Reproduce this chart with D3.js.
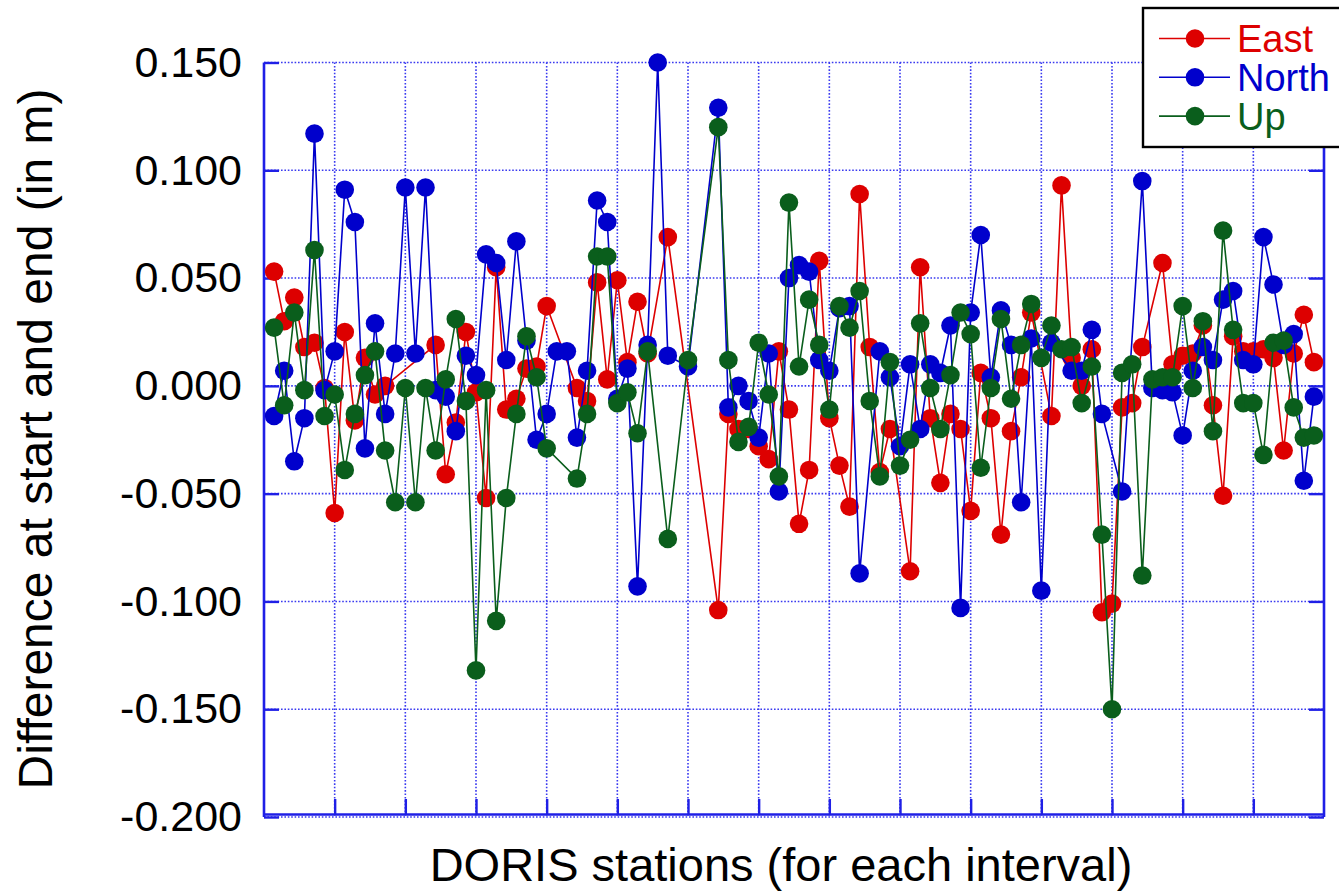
<!DOCTYPE html>
<html>
<head>
<meta charset="utf-8">
<script src="https://cdn.jsdelivr.net/npm/d3@7"></script>
<style>
  html, body { margin: 0; padding: 0; background: #ffffff; }
  svg { display: block; font-family: "Liberation Sans", Arial, Helvetica, sans-serif; }
</style>
</head>
<body>
<svg id="chart" width="1339" height="893"></svg>
<script>
// ---- Data (index 1..104 along the x axis; null = no value for that interval) ----
const seriesNames = ["East", "North", "Up"];
const east = [
  0.053, 0.030, 0.041, 0.018, 0.020, -0.001, -0.059, 0.025, -0.016, 0.013,
  -0.004, 0.000, null, null, null, null, 0.019, -0.041, -0.017, 0.025,
  -0.003, -0.052, 0.055, -0.011, -0.006, 0.008, 0.009, 0.037, null, null,
  -0.001, -0.007, 0.048, 0.003, 0.049, 0.011, 0.039, 0.015, null, 0.069,
  null, null, null, null, -0.104, -0.013, -0.020, -0.020, -0.028, -0.034,
  0.016, -0.011, -0.064, -0.039, 0.058, -0.015, -0.037, -0.056, 0.089, 0.018,
  -0.040, -0.020, null, -0.086, 0.055, -0.015, -0.045, -0.013, -0.020, -0.058,
  0.006, -0.015, -0.069, -0.021, 0.004, 0.034, null, -0.014, 0.093, 0.013,
  0.000, 0.017, -0.105, -0.101, -0.010, -0.008, 0.018, null, 0.057, 0.010,
  0.014, 0.015, 0.028, -0.009, -0.051, 0.023, 0.016, 0.016, 0.017, 0.013,
  -0.030, 0.015, 0.033, 0.011
];
const north = [
  -0.014, 0.007, -0.035, -0.015, 0.117, -0.002, 0.016, 0.091, 0.076, -0.029,
  0.029, -0.013, 0.015, 0.092, 0.015, 0.092, -0.002, -0.005, -0.021, 0.014,
  0.005, 0.061, 0.057, 0.012, 0.067, 0.021, -0.025, -0.013, 0.016, 0.016,
  -0.024, 0.007, 0.086, 0.076, -0.006, 0.008, -0.093, 0.019, 0.150, 0.014,
  null, 0.009, null, null, 0.129, -0.010, 0.000, -0.007, -0.024, 0.015,
  -0.049, 0.050, 0.056, 0.053, 0.012, 0.007, 0.036, 0.037, -0.087, null,
  0.016, 0.004, -0.028, 0.010, -0.020, 0.010, 0.006, 0.028, -0.103, 0.034,
  0.070, 0.004, 0.035, 0.019, -0.054, 0.022, -0.095, 0.020, null, 0.007,
  0.007, 0.026, -0.013, null, -0.049, null, 0.095, -0.001, -0.002, -0.003,
  -0.023, 0.007, 0.018, 0.012, 0.040, 0.044, 0.012, 0.010, 0.069, 0.047,
  0.019, 0.024, -0.044, -0.005
];
const up = [
  0.027, -0.009, 0.034, -0.002, 0.063, -0.014, -0.004, -0.039, -0.013, 0.005,
  0.016, -0.030, -0.054, -0.001, -0.054, -0.001, -0.030, 0.003, 0.031, -0.007,
  -0.132, -0.002, -0.109, -0.052, -0.013, 0.023, 0.004, -0.029, null, null,
  -0.043, -0.013, 0.060, 0.060, -0.008, -0.003, -0.022, 0.016, null, -0.071,
  null, 0.012, null, null, 0.120, 0.012, -0.026, -0.019, 0.020, -0.004,
  -0.042, 0.085, 0.009, 0.040, 0.019, -0.011, 0.037, 0.027, 0.044, -0.007,
  -0.042, 0.011, -0.037, -0.025, 0.029, -0.001, -0.020, 0.005, 0.034, 0.024,
  -0.038, -0.001, 0.031, -0.006, 0.019, 0.038, 0.013, 0.028, 0.017, 0.018,
  -0.008, 0.009, -0.069, -0.150, 0.006, 0.010, -0.088, 0.003, 0.004, 0.004,
  0.037, -0.001, 0.030, -0.021, 0.072, 0.026, -0.008, -0.008, -0.032, 0.020,
  0.021, -0.010, -0.024, -0.023
];
const yTicks = [-0.200, -0.150, -0.100, -0.050, 0.000, 0.050, 0.100, 0.150];
const xGridStep = 7;
const xMax = 105;
const seriesColors = ["#dd0000", "#0000cc", "#0a5e1c"];
const xTitle = "DORIS stations (for each interval)";
const yTitle = "Difference at start and end (in m)";

(function () {
// ---- Layout ----
const svg = d3.select("#chart");
const pL = 264, pR = 1324, pT = 62.5, pB = 817;
const axisColor = "#1f1fe6";
const gridColor = "#3a3af0";

const x = d3.scaleLinear().domain([0, xMax]).range([pL, pR]);
const y = d3.scaleLinear().domain([-0.2, 0.15]).range([pB, pT]);

const xGrid = d3.range(xGridStep, xMax, xGridStep);

// grid
const grid = svg.append("g");
grid.selectAll("line.h").data(yTicks).join("line")
  .attr("x1", pL).attr("x2", pR)
  .attr("y1", d => y(d)).attr("y2", d => y(d))
  .attr("stroke", gridColor).attr("stroke-width", 1.6)
  .attr("stroke-dasharray", "1.6,1.8");
grid.selectAll("line.v").data(xGrid).join("line")
  .attr("x1", d => x(d)).attr("x2", d => x(d))
  .attr("y1", pT).attr("y2", pB)
  .attr("stroke", gridColor).attr("stroke-width", 1.6)
  .attr("stroke-dasharray", "1.6,1.8");

// axes
const fmt = d => d.toFixed(3);
const yAxisL = svg.append("g").attr("transform", `translate(${pL},0)`)
  .call(d3.axisLeft(y).tickValues(yTicks).tickFormat(fmt)
    .tickSizeInner(-15).tickSizeOuter(0).tickPadding(22));
const yAxisR = svg.append("g").attr("transform", `translate(${pR},0)`)
  .call(d3.axisRight(y).tickValues(yTicks).tickFormat("")
    .tickSizeInner(-15).tickSizeOuter(0));
const xAxisB = svg.append("g").attr("transform", `translate(0,${pB - 3})`)
  .call(d3.axisBottom(x).tickValues(xGrid).tickFormat("")
    .tickSizeInner(-15).tickSizeOuter(0));

[yAxisL, yAxisR, xAxisB].forEach(g => {
  g.select(".domain").attr("stroke", axisColor).attr("stroke-width", 2.6);
  g.selectAll(".tick line").attr("stroke", axisColor).attr("stroke-width", 2.4);
});
yAxisL.select(".domain").attr("d", `M0,${pT}V${pB}`);
yAxisR.select(".domain").attr("d", `M0,${pT}V${pB}`);
yAxisL.selectAll(".tick text")
  .attr("font-size", 43).attr("fill", "#000")
  .attr("font-family", "Liberation Sans, Arial, sans-serif");

// series
const allSeries = [east, north, up];
const line = d3.line().x(d => x(d.i)).y(d => y(d.v));
allSeries.forEach((vals, k) => {
  const pts = vals.map((v, j) => ({ i: j + 1, v })).filter(d => d.v !== null);
  const g = svg.append("g");
  g.append("path").datum(pts)
    .attr("d", line).attr("fill", "none")
    .attr("stroke", seriesColors[k]).attr("stroke-width", 1.6)
    .attr("stroke-linejoin", "miter");
  g.selectAll("circle").data(pts).join("circle")
    .attr("cx", d => x(d.i)).attr("cy", d => y(d.v)).attr("r", 9.3)
    .attr("fill", seriesColors[k]);
});

// titles
svg.append("text")
  .attr("x", 781).attr("y", 881)
  .attr("text-anchor", "middle").attr("font-size", 47).attr("fill", "#000")
  .text(xTitle);
svg.append("text")
  .attr("transform", "translate(52,439) rotate(-90)")
  .attr("text-anchor", "middle").attr("font-size", 48).attr("fill", "#000")
  .text(yTitle);

// legend
const lg = svg.append("g");
lg.append("rect").attr("x", 1143).attr("y", 8).attr("width", 210).attr("height", 139)
  .attr("fill", "#fff").attr("stroke", "#000").attr("stroke-width", 2.4);
seriesNames.forEach((name, k) => {
  const cy = 38.5 + k * 38.8;
  lg.append("line").attr("x1", 1159).attr("x2", 1230).attr("y1", cy).attr("y2", cy)
    .attr("stroke", seriesColors[k]).attr("stroke-width", 1.6);
  lg.append("circle").attr("cx", 1195).attr("cy", cy).attr("r", 9.3).attr("fill", seriesColors[k]);
  lg.append("text").attr("x", 1237).attr("y", cy + 13.5)
    .attr("font-size", 38).attr("fill", seriesColors[k]).text(name);
});
})();
</script>
</body>
</html>
